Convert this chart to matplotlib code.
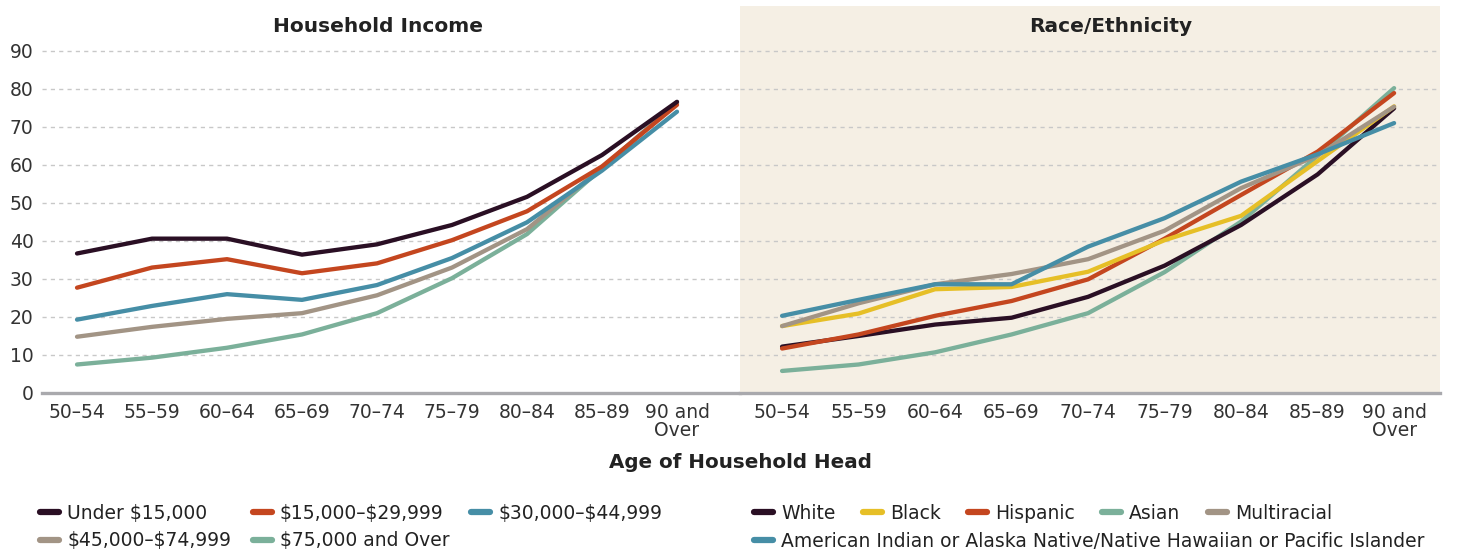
import numpy as np
import matplotlib.pyplot as plt
from matplotlib.lines import Line2D

# age groups of household head
ages = ["50\u201354", "55\u201359", "60\u201364", "65\u201369", "70\u201374",
        "75\u201379", "80\u201384", "85\u201389", "90 and\nOver"]

# household income panel
income_labels = ["Under $15,000", "$15,000\u2013$29,999", "$30,000\u2013$44,999",
                 "$45,000\u2013$74,999", "$75,000 and Over"]
under_15k = [36.7, 40.6, 40.6, 36.4, 39.1, 44.2, 51.6, 62.6, 76.6]
inc_15_30k = [27.7, 33.0, 35.2, 31.5, 34.1, 40.2, 47.8, 59.6, 75.8]
inc_30_45k = [19.3, 22.9, 26.0, 24.5, 28.4, 35.5, 44.9, 58.5, 74.0]
inc_45_75k = [14.8, 17.4, 19.5, 21.0, 25.7, 33.0, 43.1, 59.3, 76.3]
inc_75k_up = [7.5, 9.3, 11.9, 15.4, 21.0, 30.2, 41.8, 59.1, 76.5]

# race/ethnicity panel
race_labels = ["White", "Black", "Hispanic", "Asian", "Multiracial",
               "American Indian or Alaska Native/Native Hawaiian or Pacific Islander"]
white = [12.2, 15.0, 18.0, 19.8, 25.3, 33.5, 44.2, 57.5, 74.9]
black = [17.6, 20.9, 27.3, 27.9, 31.9, 40.2, 46.6, 61.0, 75.4]
hispanic = [11.7, 15.4, 20.3, 24.2, 29.9, 40.6, 52.1, 63.5, 78.9]
asian = [5.8, 7.5, 10.7, 15.4, 21.0, 31.8, 45.1, 62.4, 80.2]
multiracial = [17.6, 23.6, 28.6, 31.3, 35.2, 42.7, 53.9, 62.5, 75.3]
aian_nhpi = [20.3, 24.5, 28.6, 28.6, 38.5, 46.0, 55.6, 62.8, 71.0]

DARK = "#2a0f24"
ORANGE = "#c4461f"
BLUE = "#468ea6"
TAUPE = "#a29485"
GREEN = "#7bb09a"
YELLOW = "#e6bf27"
BEIGE = "#f5efe4"

W, H = 1461, 551
plt.rcParams['font.family'] = ['DejaVu Sans']
plt.rcParams['text.parse_math'] = False

fig = plt.figure(figsize=(W / 100, H / 100), dpi=100)


def px_axes(x0, x1, y_top, y_bot):
    return fig.add_axes([x0 / W, 1 - y_bot / H, (x1 - x0) / W, (y_bot - y_top) / H])


ax1 = px_axes(42, 740, 6, 393)
ax2 = px_axes(740, 1440, 6, 393)

x = np.arange(len(ages))

income_series = [under_15k, inc_15_30k, inc_30_45k, inc_45_75k, inc_75k_up]
income_colors = [DARK, ORANGE, BLUE, TAUPE, GREEN]
race_series = [white, black, hispanic, asian, multiracial, aian_nhpi]
race_colors = [DARK, YELLOW, ORANGE, GREEN, TAUPE, BLUE]

# draw order roughly like the original (top lines drawn last)
for vals, col in zip(income_series[::-1], income_colors[::-1]):
    ax1.plot(x, vals, color=col, lw=3.1, solid_capstyle="round", solid_joinstyle="round")
for vals, col in zip([asian, white, hispanic, black, multiracial, aian_nhpi],
                     [GREEN, DARK, ORANGE, YELLOW, TAUPE, BLUE]):
    ax2.plot(x, vals, color=col, lw=3.1, solid_capstyle="round", solid_joinstyle="round")

ax1.set_xlim(-0.467, 8.84)
ax2.set_xlim(-0.55, 8.6)
ax2.set_facecolor(BEIGE)

for ax in (ax1, ax2):
    ax.set_ylim(0, 101.8)
    ax.set_yticks(np.arange(0, 91, 10))
    ax.set_xticks(x)
    ax.set_xticklabels(ages, fontsize=13.5, color="#333333", linespacing=0.95)
    ax.tick_params(length=0, pad=7)
    for s in ("top", "right", "left"):
        ax.spines[s].set_visible(False)
    ax.spines["bottom"].set_color("#a9a9ad")
    ax.spines["bottom"].set_linewidth(2.4)
    ax.grid(axis="y", color="#c8c8c8", ls=(0, (3, 3)), lw=1.0)
    ax.grid(axis="x", visible=False)
    ax.set_axisbelow(True)

ax1.set_yticklabels([str(v) for v in range(0, 91, 10)], fontsize=13.5, color="#333333")
ax1.tick_params(axis="y", pad=6)
ax2.set_yticklabels([])

fig.text(378 / W, 1 - 27 / H, "Household Income", ha="center", va="center",
         fontsize=14.5, fontweight="bold", color="#222222")
fig.text(1111 / W, 1 - 27 / H, "Race/Ethnicity", ha="center", va="center",
         fontsize=14.5, fontweight="bold", color="#222222")
fig.text(740 / W, 1 - 463 / H, "Age of Household Head", ha="center", va="center",
         fontsize=14.3, fontweight="bold", color="#222222")


def handle(col):
    return Line2D([], [], color=col, lw=4.5, solid_capstyle="round")


leg_kw = dict(frameon=False, fontsize=13.5, handlelength=1.0, handletextpad=0.45,
              labelcolor="#222222", borderaxespad=0, borderpad=0)

# left legend: 3 columns, filled row by row
order = [0, 3, 1, 4, 2]
fig.legend([handle(income_colors[i]) for i in order], [income_labels[i] for i in order],
           loc="upper left", bbox_to_anchor=(40 / W, 1 - 504 / H), ncol=3,
           columnspacing=1.15, labelspacing=0.45, **leg_kw)

# right legend: one flowing row of five, then the long label
fig.legend([handle(c) for c in race_colors[:5]], race_labels[:5],
           loc="upper left", bbox_to_anchor=(754 / W, 1 - 504 / H), ncol=5,
           columnspacing=1.45, **leg_kw)
fig.legend([handle(race_colors[5])], race_labels[5:],
           loc="upper left", bbox_to_anchor=(754 / W, 1 - 532 / H), ncol=1, **leg_kw)

fig.savefig("out.png", dpi=100, facecolor="white")
